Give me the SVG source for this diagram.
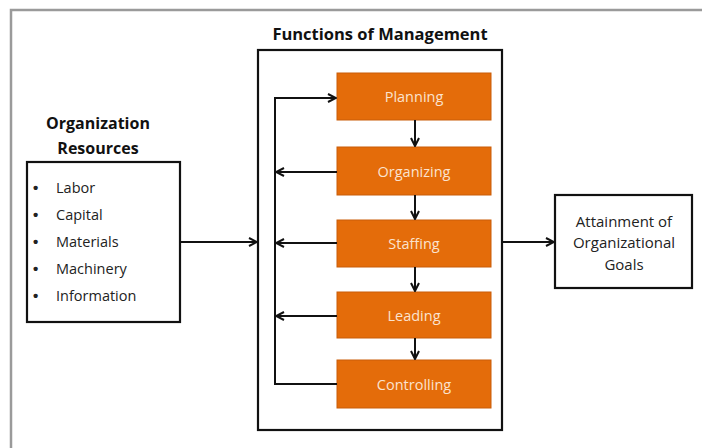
<svg xmlns="http://www.w3.org/2000/svg" width="702" height="448" viewBox="0 0 702 448">
<defs>
<style>
.frame{fill:none;stroke:#9a9a9a;stroke-width:2.5}
.box{fill:#fff;stroke:#111;stroke-width:2.2}
.fn{fill:#E46C0A;stroke:#c95d08;stroke-width:1}
.fnt{font-family:"Open Sans","Liberation Sans",sans-serif;font-size:14.5px;fill:#fbe3cf;text-anchor:middle}
.hd{font-family:"Open Sans","Liberation Sans",sans-serif;font-size:16px;font-weight:bold;fill:#111;text-anchor:middle}
.tx{font-family:"Open Sans","Liberation Sans",sans-serif;font-size:14.5px;fill:#222}
.bl{font-family:"Liberation Sans",sans-serif;font-size:15px;font-weight:bold;fill:#222}
.txc{font-family:"Open Sans","Liberation Sans",sans-serif;font-size:15px;fill:#222;text-anchor:middle}
.ln{fill:none;stroke:#111;stroke-width:2}
</style>
<marker id="ah" viewBox="0 0 10 10" refX="9" refY="5" markerWidth="5" markerHeight="5" orient="auto" markerUnits="strokeWidth">
<path d="M1,1 L9,5 L1,9" fill="none" stroke="#111" stroke-width="2"/>
</marker>
</defs>
<rect x="0" y="0" width="702" height="448" fill="#fff"/>
<path class="frame" d="M11,452 L11,10 L706,10"/>

<g id="resources">
<text class="hd" x="98" y="129">Organization</text>
<text class="hd" x="98" y="154">Resources</text>
<rect class="box" x="27" y="162" width="153" height="160"/>
<g class="bl">
<text x="33" y="193">•</text>
<text x="33" y="220">•</text>
<text x="33" y="247">•</text>
<text x="33" y="274">•</text>
<text x="33" y="301">•</text>
</g>
<g class="tx">
<text x="56" y="193">Labor</text>
<text x="56" y="220">Capital</text>
<text x="56" y="247">Materials</text>
<text x="56" y="274">Machinery</text>
<text x="56" y="301">Information</text>
</g>
</g>

<g id="functions">
<text class="hd" x="380" y="40" style="font-size:16.5px">Functions of Management</text>
<rect class="box" x="258" y="50" width="244" height="380"/>
</g>

<g id="planning"><rect class="fn" x="337" y="73" width="154" height="47"/><text class="fnt" x="414" y="102">Planning</text></g>
<g id="organizing"><rect class="fn" x="337" y="147" width="154" height="48"/><text class="fnt" x="414" y="177">Organizing</text></g>
<g id="staffing"><rect class="fn" x="337" y="220" width="154" height="47"/><text class="fnt" x="414" y="249">Staffing</text></g>
<g id="leading"><rect class="fn" x="337" y="292" width="154" height="46"/><text class="fnt" x="414" y="321">Leading</text></g>
<g id="controlling"><rect class="fn" x="337" y="360" width="154" height="48"/><text class="fnt" x="414" y="390">Controlling</text></g>

<g id="goals">
<rect class="box" x="555" y="195" width="137" height="93"/>
<text class="txc" x="624" y="227">Attainment of</text>
<text class="txc" x="624" y="248">Organizational</text>
<text class="txc" x="624" y="270">Goals</text>
</g>

<g id="connectors">
<line class="ln" x1="180" y1="242" x2="257" y2="242" marker-end="url(#ah)"/>
<line class="ln" x1="502" y1="242" x2="554" y2="242" marker-end="url(#ah)"/>
<line class="ln" x1="415" y1="120" x2="415" y2="146" marker-end="url(#ah)"/>
<line class="ln" x1="415" y1="195" x2="415" y2="219" marker-end="url(#ah)"/>
<line class="ln" x1="415" y1="267" x2="415" y2="291" marker-end="url(#ah)"/>
<line class="ln" x1="415" y1="338" x2="415" y2="359" marker-end="url(#ah)"/>
<path class="ln" d="M337,384 L275,384 L275,98 L336,98" marker-end="url(#ah)"/>
<line class="ln" x1="337" y1="172" x2="276" y2="172" marker-end="url(#ah)"/>
<line class="ln" x1="337" y1="243" x2="276" y2="243" marker-end="url(#ah)"/>
<line class="ln" x1="337" y1="316" x2="276" y2="316" marker-end="url(#ah)"/>
</g>
</svg>
